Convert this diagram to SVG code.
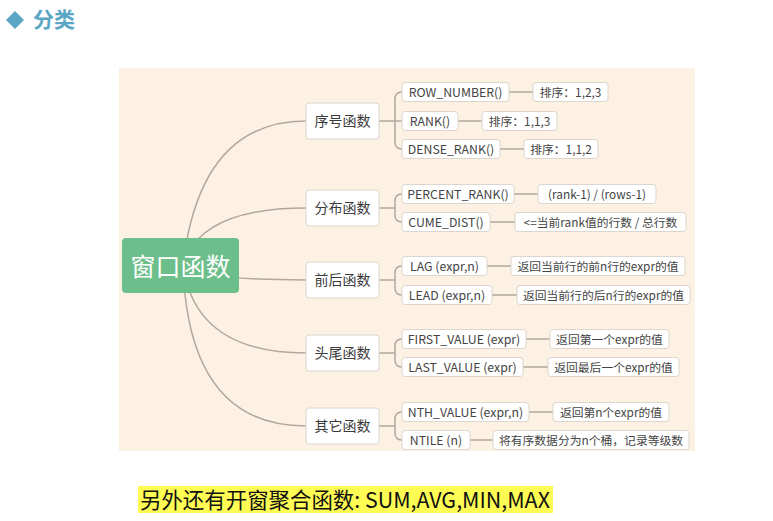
<svg xmlns="http://www.w3.org/2000/svg" width="773" height="521" viewBox="0 0 773 521">
<style>
text{font-family:"Noto Sans CJK SC","Microsoft YaHei","Liberation Sans",sans-serif}
.cat rect{fill:#fff;stroke:#dcd6ce;stroke-width:1}
.cat text{font-size:14px;fill:#3a3a3a;text-anchor:middle}
.leaf rect{fill:#fff;stroke:#dcd6ce;stroke-width:1}
.leaf text{font-size:12.3px;fill:#444;text-anchor:middle}
.desc text{font-size:11.8px}
.con path,.con line{fill:none;stroke:#b0a89f;stroke-width:1.5}
.con .thin{stroke-width:1.2}
</style>
<rect width="773" height="521" fill="#fff"/>
<g id="title">
<polygon points="15,11 24,20 15,29 6,20" fill="#5ba6c4"/>
<text x="33" y="27" font-size="21" font-weight="bold" fill="#5ba6c4">分类</text>
</g>
<rect id="panel" x="119" y="68" width="576" height="383" fill="#fcf1e3"/>
<g class="con" id="connectors">
<path d="M183 265 Q200 121 306 121"/>
<path d="M183 265 Q200 208 306 208"/>
<path d="M183 265 Q200 280 306 280"/>
<path d="M183 265 Q195 353 306 353"/>
<path d="M183 265 Q188 426 306 426"/>
<g class="thin">
<line x1="379" y1="121" x2="402" y2="121"/>
<path d="M402 92 Q395 92 395 99 L395 142 Q395 149 402 149"/>
<line x1="379" y1="208" x2="395" y2="208"/>
<path d="M402 194 Q395 194 395 201 L395 215 Q395 222 402 222"/>
<line x1="379" y1="280" x2="395" y2="280"/>
<path d="M402 266 Q395 266 395 273 L395 288 Q395 295 402 295"/>
<line x1="379" y1="353" x2="395" y2="353"/>
<path d="M402 339 Q395 339 395 346 L395 360 Q395 367 402 367"/>
<line x1="379" y1="426" x2="395" y2="426"/>
<path d="M402 412 Q395 412 395 419 L395 433 Q395 440 402 440"/>
<line x1="509" y1="92" x2="533" y2="92"/>
<line x1="458" y1="121" x2="482" y2="121"/>
<line x1="500" y1="149" x2="524" y2="149"/>
<line x1="514" y1="194" x2="538" y2="194"/>
<line x1="490" y1="222" x2="515" y2="222"/>
<line x1="487" y1="266" x2="511" y2="266"/>
<line x1="492" y1="295" x2="517" y2="295"/>
<line x1="526" y1="339" x2="550" y2="339"/>
<line x1="523" y1="367" x2="548" y2="367"/>
<line x1="529" y1="412" x2="553" y2="412"/>
<line x1="470" y1="440" x2="493" y2="440"/>
</g>
</g>
<g id="root">
<rect x="122" y="238" width="117" height="55" rx="4" fill="#6cbf8b"/>
<text x="180.5" y="276" font-size="25" fill="#fff" text-anchor="middle">窗口函数</text>
</g>
<g id="cat-xuhao" class="cat"><rect x="306" y="103" width="73" height="36" rx="3"/><text x="342.5" y="126">序号函数</text></g>
<g id="cat-fenbu" class="cat"><rect x="306" y="190" width="73" height="36" rx="3"/><text x="342.5" y="213">分布函数</text></g>
<g id="cat-qianhou" class="cat"><rect x="306" y="262" width="73" height="36" rx="3"/><text x="342.5" y="285">前后函数</text></g>
<g id="cat-touwei" class="cat"><rect x="306" y="335" width="73" height="36" rx="3"/><text x="342.5" y="358">头尾函数</text></g>
<g id="cat-qita" class="cat"><rect x="306" y="408" width="73" height="36" rx="3"/><text x="342.5" y="431">其它函数</text></g>

<g id="leaf-row_number" class="leaf"><rect x="402" y="82.5" width="107" height="19" rx="3"/><text x="455.5" y="96.5">ROW_NUMBER()</text></g>
<g id="desc-row_number" class="leaf desc"><rect x="533" y="82.5" width="75" height="19" rx="3"/><text x="570.5" y="96.5">排序：1,2,3</text></g>
<g id="leaf-rank" class="leaf"><rect x="402" y="111.5" width="56" height="19" rx="3"/><text x="430" y="125.5">RANK()</text></g>
<g id="desc-rank" class="leaf desc"><rect x="482" y="111.5" width="75" height="19" rx="3"/><text x="519.5" y="125.5">排序：1,1,3</text></g>
<g id="leaf-dense_rank" class="leaf"><rect x="402" y="139.5" width="98" height="19" rx="3"/><text x="451" y="153.5">DENSE_RANK()</text></g>
<g id="desc-dense_rank" class="leaf desc"><rect x="524" y="139.5" width="74" height="19" rx="3"/><text x="561" y="153.5">排序：1,1,2</text></g>
<g id="leaf-percent_rank" class="leaf"><rect x="402" y="184.5" width="112" height="19" rx="3"/><text x="458" y="198.5">PERCENT_RANK()</text></g>
<g id="desc-percent_rank" class="leaf desc"><rect x="538" y="184.5" width="118" height="19" rx="3"/><text x="597" y="198.5">(rank-1) / (rows-1)</text></g>
<g id="leaf-cume_dist" class="leaf"><rect x="402" y="212.5" width="88" height="19" rx="3"/><text x="446" y="226.5">CUME_DIST()</text></g>
<g id="desc-cume_dist" class="leaf desc"><rect x="515" y="212.5" width="171" height="19" rx="3"/><text x="600.5" y="226.5">&lt;=当前rank值的行数 / 总行数</text></g>
<g id="leaf-lag" class="leaf"><rect x="402" y="256.5" width="85" height="19" rx="3"/><text x="444.5" y="270.5">LAG (expr,n)</text></g>
<g id="desc-lag" class="leaf desc"><rect x="511" y="256.5" width="174" height="19" rx="3"/><text x="598" y="270.5">返回当前行的前n行的expr的值</text></g>
<g id="leaf-lead" class="leaf"><rect x="402" y="285.5" width="90" height="19" rx="3"/><text x="447" y="299.5">LEAD (expr,n)</text></g>
<g id="desc-lead" class="leaf desc"><rect x="517" y="285.5" width="173" height="19" rx="3"/><text x="603.5" y="299.5">返回当前行的后n行的expr的值</text></g>
<g id="leaf-first_value" class="leaf"><rect x="402" y="329.5" width="124" height="19" rx="3"/><text x="464" y="343.5">FIRST_VALUE (expr)</text></g>
<g id="desc-first_value" class="leaf desc"><rect x="550" y="329.5" width="119" height="19" rx="3"/><text x="609.5" y="343.5">返回第一个expr的值</text></g>
<g id="leaf-last_value" class="leaf"><rect x="402" y="357.5" width="121" height="19" rx="3"/><text x="462.5" y="371.5">LAST_VALUE (expr)</text></g>
<g id="desc-last_value" class="leaf desc"><rect x="548" y="357.5" width="131" height="19" rx="3"/><text x="613.5" y="371.5">返回最后一个expr的值</text></g>
<g id="leaf-nth_value" class="leaf"><rect x="402" y="402.5" width="127" height="19" rx="3"/><text x="465.5" y="416.5">NTH_VALUE (expr,n)</text></g>
<g id="desc-nth_value" class="leaf desc"><rect x="553" y="402.5" width="116" height="19" rx="3"/><text x="611" y="416.5">返回第n个expr的值</text></g>
<g id="leaf-ntile" class="leaf"><rect x="402" y="430.5" width="68" height="19" rx="3"/><text x="436" y="444.5">NTILE (n)</text></g>
<g id="desc-ntile" class="leaf desc"><rect x="493" y="430.5" width="196" height="19" rx="3"/><text x="591" y="444.5">将有序数据分为n个桶，记录等级数</text></g>

<g id="note">
<rect x="138" y="486" width="415" height="27" fill="#fffd54"/>
<text x="140" y="508" font-size="22" fill="#111" textLength="410" lengthAdjust="spacingAndGlyphs">另外还有开窗聚合函数: SUM,AVG,MIN,MAX</text>
</g>
</svg>
